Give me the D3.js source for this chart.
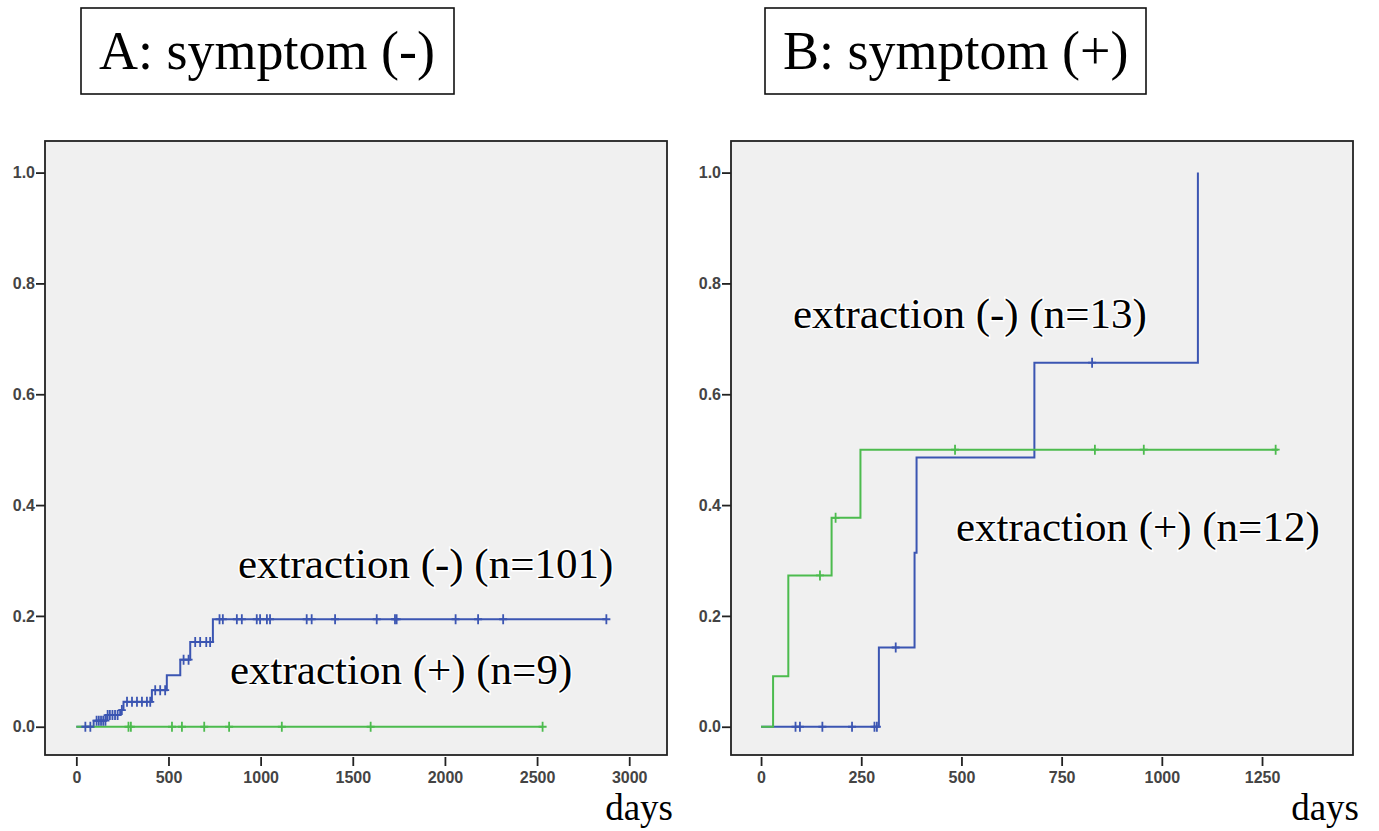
<!DOCTYPE html>
<html>
<head>
<meta charset="utf-8">
<script src="https://cdn.jsdelivr.net/npm/d3@7"></script>
<style>
	body { margin: 0; background: #fff; }
	svg { display: block; }
</style>
</head>
<body>
<div id="chart"></div>
<script>
'use strict';

// cumulative incidence
const yTicks = [0, 0.2, 0.4, 0.6, 0.8, 1.0];

// A: symptom (-)
const daysTicksA = [0, 500, 1000, 1500, 2000, 2500, 3000];
const stepsA_extNeg = [[0, 0], [94, 0.011], [160, 0.021], [238, 0.030], [256, 0.045], [410, 0.066],
	[491, 0.093], [564, 0.121], [618, 0.153], [741, 0.194]];
const censA_extNeg = [49, 76, 110, 122, 134, 146, 158, 170, 182, 196, 210, 224, 247, 275, 302, 329,
	356, 383, 401, 428, 455, 482, 582, 609, 645, 672, 705, 726, 777, 795, 871, 898, 979, 997, 1034,
	1051, 1250, 1277, 1404, 1630, 1729, 1738, 2058, 2180, 2316, 2876];
const lastA_extNeg = 2876;
const stepsA_extPos = [[0, 0]];
const censA_extPos = [283, 296, 519, 573, 694, 829, 1115, 1597, 2530];
const lastA_extPos = 2530;

// B: symptom (+)
const daysTicksB = [0, 250, 500, 750, 1000, 1250];
const stepsB_extNeg = [[0, 0], [294, 0.143], [383, 0.314], [388, 0.486], [682, 0.657], [1090, 1.0]];
const censB_extNeg = [86, 97, 153, 227, 283, 289, 336, 826];
const lastB_extNeg = 1090;
const stepsB_extPos = [[0, 0], [30, 0.091], [68, 0.273], [176, 0.377], [248, 0.500]];
const censB_extPos = [147, 186, 484, 833, 955, 1284];
const lastB_extPos = 1290;

const BLUE = "#3b55b2";
const GREEN = "#4cbb4e";
const SERIF = "'Liberation Serif', 'Times New Roman', serif";
const SANS = "'Liberation Sans', Arial, sans-serif";

const svg = d3.select("#chart")
	.append("svg")
		.attr("width", 1379)
		.attr("height", 831)
	;

// value of a step function at day t
function stepAt(steps, t) {
	let v = steps[0][1];
	for (const s of steps) {
		if (s[0] <= t) v = s[1];
	}
	return v;
}

function drawPanel(p) {
	const x = d3.scaleLinear().domain(p.xDomain).range([p.frame.left, p.frame.right]);
	const y = d3.scaleLinear().domain([-0.051, 1.057]).range([p.frame.bottom, p.frame.top]);

	// title box
	const title = svg.append("g");
	title.append("rect")
		.attr("x", p.titleBox[0])
		.attr("y", 8)
		.attr("width", p.titleBox[1])
		.attr("height", 86)
		.attr("fill", "#fff")
		.attr("stroke", "#111")
		.attr("stroke-width", 1.6)
		;
	title.append("text")
		.attr("x", p.titleBox[0] + 18)
		.attr("y", 69)
		.attr("font-family", SERIF)
		.attr("font-size", 54)
		.attr("fill", "#000")
		.text(p.title)
		;

	// plot area
	svg.append("rect")
		.attr("x", p.frame.left)
		.attr("y", p.frame.top)
		.attr("width", p.frame.right - p.frame.left)
		.attr("height", p.frame.bottom - p.frame.top)
		.attr("fill", "#f0f0f0")
		;

	const yAxis = svg.append("g")
		.attr("transform", `translate(${p.frame.left},0)`)
		.call(d3.axisLeft(y).tickValues(yTicks).tickFormat(d3.format(".1f")).tickSize(9).tickPadding(1))
		;
	const xAxis = svg.append("g")
		.attr("transform", `translate(0,${p.frame.bottom + 2})`)
		.call(d3.axisBottom(x).tickValues(p.ticks).tickFormat(d3.format("d")).tickSize(9).tickPadding(6))
		;
	[yAxis, xAxis].forEach(a => {
		a.select(".domain").remove();
		a.selectAll("line").attr("stroke", "#222").attr("stroke-width", 1.8);
		a.selectAll("text")
			.attr("font-family", SANS)
			.attr("font-size", 16)
			.attr("font-weight", "bold")
			.attr("fill", "#444")
			;
	});

	const line = d3.line()
		.curve(d3.curveStepAfter)
		.x(d => x(d[0]))
		.y(d => y(d[1]))
		;

	p.series.forEach(s => {
		const pts = s.steps.slice();
		const lastV = pts[pts.length - 1][1];
		if (s.last > pts[pts.length - 1][0]) pts.push([s.last, lastV]);
		svg.append("path")
			.datum(pts)
			.attr("d", line)
			.attr("fill", "none")
			.attr("stroke", s.color)
			.attr("stroke-width", 2)
			;
	});

	// censor marks (+)
	p.series.forEach(s => {
		const g = svg.append("g")
			.attr("stroke", s.color)
			.attr("stroke-width", 1.8)
			;
		g.selectAll("path")
			.data(s.cens)
			.join("path")
				.attr("d", t => {
					const cx = x(t), cy = y(stepAt(s.steps, t));
					return `M${cx},${cy - 5}V${cy + 5}M${cx - 4},${cy}H${cx + 4}`;
				})
			;
	});

	// group labels
	p.labels.forEach(l => {
		svg.append("text")
			.attr("x", l[0])
			.attr("y", l[1])
			.attr("font-family", SERIF)
			.attr("font-size", 43)
			.attr("fill", "#000")
			.attr("stroke", "#fff")
			.attr("stroke-width", 3)
			.attr("paint-order", "stroke")
			.attr("xml:space", "preserve")
			.text(l[2])
			;
	});

	svg.append("rect")
		.attr("x", p.frame.left)
		.attr("y", p.frame.top)
		.attr("width", p.frame.right - p.frame.left)
		.attr("height", p.frame.bottom - p.frame.top)
		.attr("fill", "none")
		.attr("stroke", "#222")
		.attr("stroke-width", 1.8)
		;

	svg.append("text")
		.attr("x", p.frame.right + 6)
		.attr("y", 820)
		.attr("text-anchor", "end")
		.attr("font-family", SERIF)
		.attr("font-size", 37)
		.attr("fill", "#000")
		.text("days")
		;
}

drawPanel({
	title: "A: symptom (-)",
	titleBox: [81, 373],
	frame: {left: 45, right: 667, top: 141, bottom: 755},
	xDomain: [-170, 3205],
	ticks: daysTicksA,
	series: [
		{steps: stepsA_extNeg, cens: censA_extNeg, last: lastA_extNeg, color: BLUE},
		{steps: stepsA_extPos, cens: censA_extPos, last: lastA_extPos, color: GREEN}
	],
	labels: [
		[238, 578, "extraction (-) (n=101)"],
		[230, 684, "extraction (+) (n=9)"]
	]
});

drawPanel({
	title: "B: symptom (+)",
	titleBox: [765, 381],
	frame: {left: 731, right: 1353, top: 141, bottom: 755},
	xDomain: [-75, 1477],
	ticks: daysTicksB,
	series: [
		{steps: stepsB_extNeg, cens: censB_extNeg, last: lastB_extNeg, color: BLUE},
		{steps: stepsB_extPos, cens: censB_extPos, last: lastB_extPos, color: GREEN}
	],
	labels: [
		[793, 328, "extraction (-) (n=13)"],
		[956, 541, "extraction (+) (n=12)"]
	]
});
</script>
</body>
</html>
